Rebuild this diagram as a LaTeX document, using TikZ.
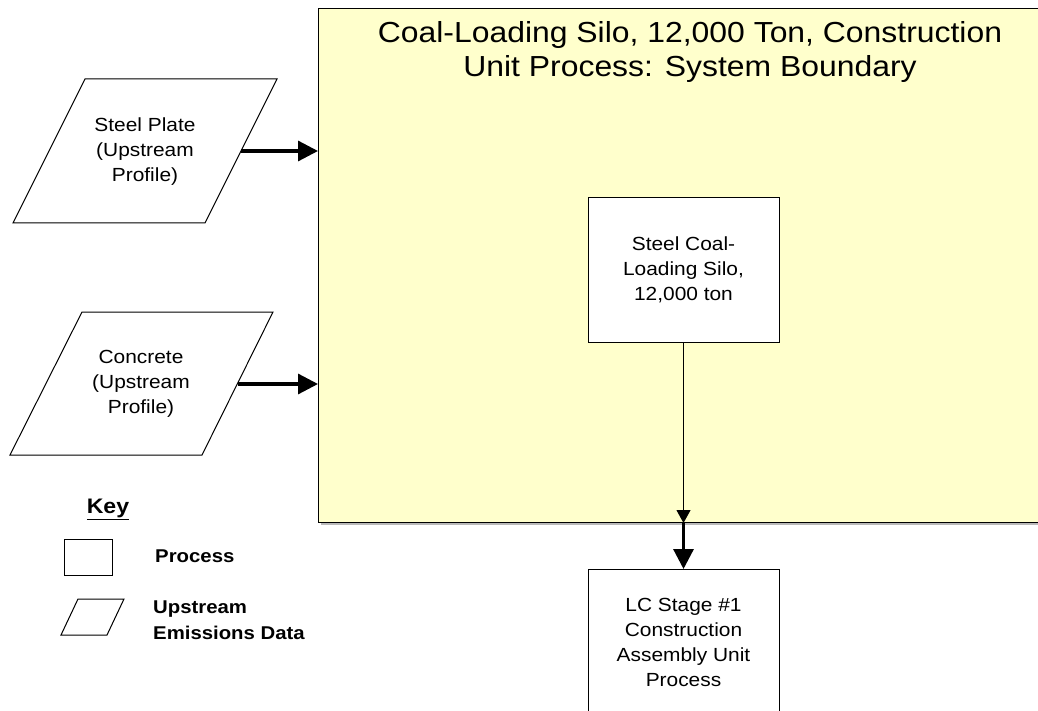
\documentclass[tikz,border=0pt]{standalone}
\usepackage{fontspec}
\setmainfont{Liberation Sans}[FakeStretch=1.1]
\usetikzlibrary{arrows.meta}
\definecolor{bndfill}{HTML}{FFFFCC}
\begin{document}
\begin{tikzpicture}[x=1pt,y=-1pt,
  lbl/.style={font=\fontsize{19}{25}\selectfont, align=center, inner sep=0pt},
  keylbl/.style={font=\bfseries\fontsize{18.5}{26}\selectfont, align=left, inner sep=0pt, anchor=west},
  procbox/.style={draw, line width=1pt, fill=white, minimum width=191pt, align=center,
                  font=\fontsize{19}{25}\selectfont, inner sep=0pt},
  para/.style={draw, line width=1pt, fill=white},
  bigarrow/.style={line width=3.2pt, -{Triangle[length=20pt,width=20pt]}},
  thinarrow/.style={line width=1pt, -{Triangle[length=13pt,width=14pt]}}]
\useasboundingbox (0,0) rectangle (1038,711);
\clip (0,0) rectangle (1038,711);
% system boundary
\fill[gray!55] (321,11) rectangle (1048,525);
\node (bound) [draw, line width=1pt, fill=bndfill, minimum width=727pt, minimum height=514pt,
  anchor=north west, inner sep=0pt] at (318,8) {};
\node (title) [font=\fontsize{29}{34}\selectfont, align=center, inner sep=0pt] at (690,52)
  {Coal-Loading Silo, 12,000 Ton, Construction\\Unit Process: System Boundary};
% inner process
\node (silo) [procbox, minimum height=144pt] at (683.5,270) {Steel Coal-\\Loading Silo,\\12,000 ton};
% LC stage
\node (lc) [procbox, minimum height=146pt, anchor=north] at (683.5,569)
  {LC Stage \#1\\Construction\\Assembly Unit\\Process};
% steel plate
\draw[para] (85,79) -- (277,79) -- (205,223) -- (13,223) -- cycle;
\node (sp) [lbl] at (145,152) {Steel Plate\\(Upstream\\Profile)};
\coordinate (spout) at (241,151);
% concrete
\draw[para] (82,312) -- (273,312) -- (202,455) -- (10,455) -- cycle;
\node (cc) [lbl] at (141,384) {Concrete\\(Upstream\\Profile)};
\coordinate (ccout) at (238,384);
% connectors
\draw[bigarrow] (spout) -- (spout -| bound.west);
\draw[bigarrow] (ccout) -- (ccout -| bound.west);
\coordinate (exitpt) at (silo.south |- bound.south);
\draw[thinarrow] (silo.south) -- (exitpt);
\draw[bigarrow] (exitpt) -- (lc.north);
% key
\node (key) [font=\bfseries\fontsize{21}{25}\selectfont, inner sep=0pt] at (108,509) {\underline{Key}};
\node (kproc) [draw, line width=1pt, minimum width=48pt, minimum height=36pt, inner sep=0pt] at (88,557) {};
\node (kproct) [keylbl] at (155,556) {Process};
\draw[para] (78,599) -- (124,599) -- (107,635) -- (61,635) -- cycle;
\node (kup) [keylbl] at (153,620) {Upstream\\Emissions Data};
\end{tikzpicture}
\end{document}
